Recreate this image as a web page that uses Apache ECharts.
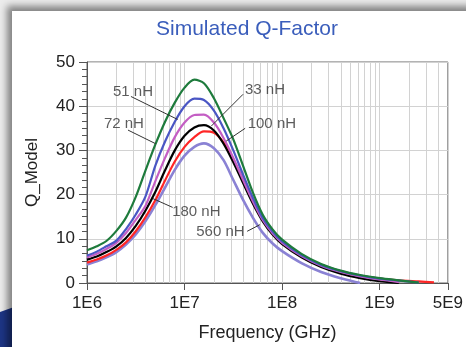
<!DOCTYPE html>
<html>
<head>
<meta charset="utf-8">
<script src="https://cdn.jsdelivr.net/npm/echarts@6/dist/echarts.min.js"></script>
<style>
html,body{margin:0;padding:0;width:466px;height:347px;overflow:hidden;background:#ececec;}
#blue{position:absolute;left:0;top:0;width:466px;height:347px;background:#1d3585;
clip-path:polygon(0 312px,14px 307px,14px 347px,0 347px);}
#panel{position:absolute;left:12px;top:11px;width:470px;height:350px;background:#fff;
box-shadow:-3px -3px 7px 2px rgba(0,0,0,0.45);}
#chart{position:absolute;left:0;top:0;width:466px;height:347px;}
</style>
</head>
<body>
<div id="blue"></div>
<div id="panel"></div>
<div id="chart"></div>
<script>
// Frequencies (Hz)
const freqs = [1e6, 1.26e6, 1.58e6, 2e6, 2.51e6, 3.16e6, 3.98e6, 5.01e6, 6.31e6, 7.94e6,
  1e7, 1.26e7, 1.58e7, 2e7, 2.51e7, 3.16e7, 3.98e7, 5.01e7, 6.31e7, 7.94e7,
  1e8, 1.58e8, 2.51e8, 3.98e8, 6.31e8, 1e9, 1.58e9, 2.51e9, 3.6e9];
// Q values
const q72nH  = [7.4, 8.3, 9.5, 11.8, 14.8, 19.5, 25.5, 31.3, 36.5, 40.8, 44.2, 46.0, 45.2, 41.8, 37.3, 32.5, 26.5, 20.5, 15.5, 12.2, 9.8, 6.6, 4.3, 2.8, 1.8, 1.1, 0.6, 0.1];
const q51nH  = [6.2, 7.1, 8.3, 9.6, 12.2, 15.5, 19.6, 26.5, 32.0, 36.5, 40.0, 41.7, 41.4, 39.0, 35.0, 30.0, 24.5, 19.3, 14.8, 11.7, 9.4, 6.3, 4.1, 2.7, 1.7, 1.0, 0.55, 0.1];
const qMag   = [5.8, 6.6, 7.7, 9.1, 11.3, 14.3, 17.5, 23.0, 28.3, 33.0, 36.3, 38.0, 38.1, 36.3, 32.8, 28.3, 23.3, 18.5, 14.3, 11.3, 9.1, 6.1, 3.9, 2.5, 1.5, 0.8, 0.2];
const q33nH  = [5.3, 6.0, 7.0, 8.3, 10.2, 12.9, 16.4, 20.6, 25.5, 30.0, 33.3, 35.2, 35.7, 34.5, 31.5, 27.3, 22.6, 18.0, 14.0, 11.0, 8.8, 5.8, 3.6, 2.1, 1.1, 0.4, 0.0];
const q100nH = [4.6, 5.3, 6.2, 7.5, 9.2, 11.7, 14.9, 18.7, 23.2, 27.5, 30.8, 33.0, 34.3, 34.0, 31.8, 28.0, 23.3, 18.6, 14.4, 11.3, 9.0, 5.9, 3.8, 2.4, 1.6, 1.0, 0.6, 0.35, 0.15];
const q560nH = [4.2, 4.9, 5.8, 7.0, 8.7, 11.0, 14.0, 17.6, 21.6, 25.6, 28.8, 30.8, 31.6, 30.5, 27.8, 23.3, 18.8, 14.8, 11.4, 9.0, 7.2, 4.5, 2.5, 1.1, 0.0];

// Tick labels / grid
const yTicks = [0, 10, 20, 30, 40, 50];
const gridFreqs = [];
[1e6, 1e7, 1e8, 1e9].forEach(d => { for (let k = 2; k <= 9; k++) { if (d * k < 5e9) gridFreqs.push(d * k); } });

// Annotations
const noteNames = ['51 nH', '72 nH', '33 nH', '100 nH', '180 nH', '560 nH'];
const noteText  = [[2.96e6, 43.3], [2.39e6, 36.1], [6.67e7, 43.6], [7.85e7, 36.1], [1.32e7, 16.2], [2.33e7, 11.5]];
const noteFrom  = [[2.82e6, 42.2], [2.63e6, 34.6], [3.98e7, 42.7], [4.18e7, 35.0], [7.55e6, 17.1], [4.38e7, 11.7]];
const noteTo    = [[8.49e6, 37.0], [5.07e6, 31.5], [1.88e7, 35.5], [2.67e7, 32.1], [4.73e6, 19.1], [5.93e7, 13.2]];

function toData(vals) { return vals.map((v, i) => [freqs[i], v]); }
function fmtE(v) {
  const e = Math.floor(Math.log10(v) + 1e-9);
  const m = Math.round(v / Math.pow(10, e));
  return m + 'E' + e;
}

const curves = [
  { name: '560 nH', data: q560nH, color: '#8a82d4', width: 2.6 },
  { name: '100 nH', data: q100nH, color: '#ff2626', width: 2.2 },
  { name: '33 nH',  data: q33nH,  color: '#000000', width: 2.2 },
  { name: 'mag',    data: qMag,   color: '#c45ec4', width: 2.2 },
  { name: '51 nH',  data: q51nH,  color: '#4a56c4', width: 2.2 },
  { name: '72 nH',  data: q72nH,  color: '#1e7b3c', width: 2.2 }
];

const chart = echarts.init(document.getElementById('chart'), null, { renderer: 'canvas' });
const font = 'Liberation Sans, Arial, sans-serif';

const series = curves.map(c => ({
  name: c.name, type: 'line', data: toData(c.data), smooth: 0.3, showSymbol: false,
  lineStyle: { color: c.color, width: c.width }, itemStyle: { color: c.color }, z: 3, clip: true, silent: true
}));

series.push({
  name: 'vgrid', type: 'scatter', data: [], silent: true, z: 1,
  markLine: {
    z: 1, silent: true, symbol: ['none', 'none'], animation: false,
    label: { show: false },
    lineStyle: { color: '#d2d2d2', width: 1, type: 'solid' },
    data: gridFreqs.map(v => ({ xAxis: v }))
  }
});

series.push({
  name: 'notes', type: 'scatter', symbolSize: 0, silent: true, z: 6,
  data: noteNames.map((n, i) => [noteText[i][0], noteText[i][1], n]),
  label: { show: true, position: 'inside', formatter: p => p.value[2], fontSize: 15, color: '#333', fontFamily: font },
  markLine: {
    silent: true, symbol: ['none', 'none'], animation: false,
    label: { show: false },
    lineStyle: { color: '#333', width: 1, type: 'solid' },
    data: noteNames.map((n, i) => [{ coord: noteFrom[i] }, { coord: noteTo[i] }])
  }
});

chart.setOption({
  animation: false,
  backgroundColor: 'transparent',
  title: {
    text: 'Simulated Q-Factor', left: 242, top: 14, textAlign: 'center',
    textStyle: { color: '#3a5dbb', fontSize: 21, fontWeight: 'normal', fontFamily: font }
  },
  grid: { left: 87, right: 17, top: 62, bottom: 62, show: true, borderColor: '#666', borderWidth: 1 },
  xAxis: {
    type: 'log', logBase: 10, min: 1e6, max: 5e9,
    name: 'Frequency (GHz)', nameLocation: 'middle', nameGap: 41,
    nameTextStyle: { fontSize: 18, color: '#222', fontFamily: font },
    axisLine: { lineStyle: { color: '#555', width: 1 } },
    axisTick: { show: true, length: 7, lineStyle: { color: '#555' } },
    minorTick: { show: false },
    axisLabel: { formatter: fmtE, fontSize: 17, color: '#222', margin: 12, fontFamily: font, showMaxLabel: true, showMinLabel: true },
    splitLine: { show: true, lineStyle: { color: '#d2d2d2', width: 1 } }
  },
  yAxis: {
    type: 'value', min: yTicks[0], max: yTicks[yTicks.length - 1], interval: 10,
    name: 'Q_Model', nameLocation: 'middle', nameGap: 46, nameRotate: 90,
    nameTextStyle: { fontSize: 17, color: '#222', fontFamily: font },
    axisLine: { show: true, lineStyle: { color: '#555', width: 1 } },
    axisTick: { show: true, length: 8, lineStyle: { color: '#555' } },
    minorTick: { show: true, splitNumber: 6, length: 5, lineStyle: { color: '#555' } },
    axisLabel: { fontSize: 17, color: '#222', margin: 12, fontFamily: font },
    splitLine: { show: true, lineStyle: { color: '#d2d2d2', width: 1 } }
  },
  series: series
});
</script>
</body>
</html>
